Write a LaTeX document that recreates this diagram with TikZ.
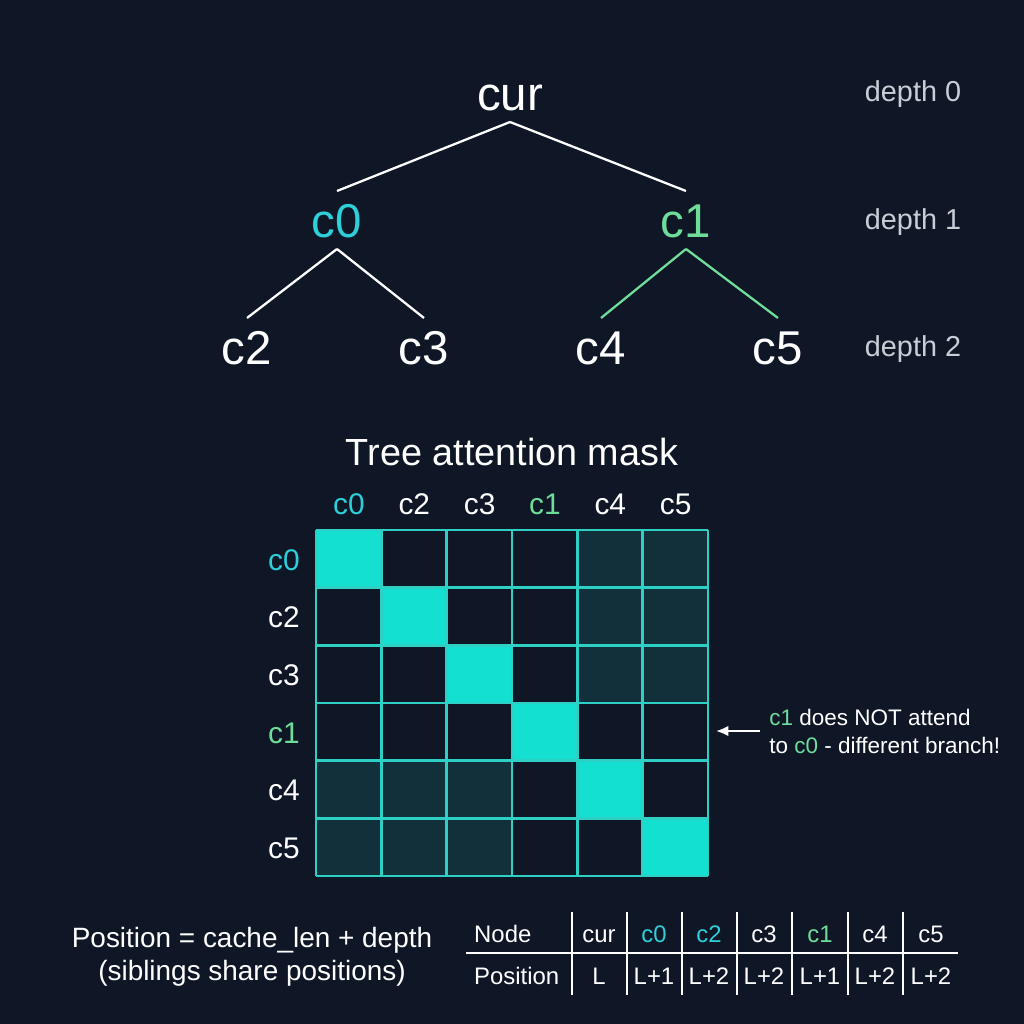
\documentclass[tikz,border=0pt]{standalone}
\usepackage{fontspec}
\setmainfont{Liberation Sans}
\usetikzlibrary{arrows.meta}
\definecolor{bg}{HTML}{0F1727}
\definecolor{cyantext}{HTML}{2DCFD9}
\definecolor{greentext}{HTML}{6FDD9A}
\definecolor{gridline}{HTML}{2ECFC4}
\definecolor{cellon}{HTML}{14E0D2}
\definecolor{celldim}{HTML}{12303A}
\definecolor{depthgray}{HTML}{C9CED6}

\begin{document}
\begin{tikzpicture}[x=0.02cm,y=-0.02cm,
  tnode/.style={text=white,font=\fontsize{27}{27}\selectfont,inner sep=0pt,
    text height=19.4pt,text depth=0pt,outer sep=6.8pt},
  depthlab/.style={text=depthgray,font=\fontsize{16.4}{16.4}\selectfont,anchor=base},
  glab/.style={text=white,font=\fontsize{17}{17}\selectfont,anchor=base},
  tcell/.style={text=white,font=\fontsize{13.6}{13.6}\selectfont,anchor=base},
  edge/.style={white,line width=1.3pt},
  gedge/.style={greentext,line width=1.3pt}]
\useasboundingbox (0,0) rectangle (1024,1024);
\fill[bg] (0,0) rectangle (1024,1024);
% tree
\node[tnode] (cur) at (510,93) {cur};
\node[tnode,text=cyantext] (c0) at (337,220) {c0};
\node[tnode,text=greentext] (c1) at (686,220) {c1};
\node[tnode] (c2) at (247,347) {c2};
\node[tnode] (c3) at (424,347) {c3};
\node[tnode] (c4) at (601,347) {c4};
\node[tnode] (c5) at (778,347) {c5};
\draw[edge] (cur.south) -- (c0.north);
\draw[edge] (cur.south) -- (c1.north);
\draw[edge] (c0.south) -- (c2.north);
\draw[edge] (c0.south) -- (c3.north);
\draw[gedge] (c1.south) -- (c4.north);
\draw[gedge] (c1.south) -- (c5.north);
\foreach \d/\y in {0/102, 1/229, 2/356} \node[depthlab] (depth\d) at (913,\y) {depth \d};
% mask
\node[text=white,font=\fontsize{21.5}{21.5}\selectfont,anchor=base] (title) at (512,465) {Tree attention mask};
\foreach \r in {0,1,2} \foreach \c in {4,5}
  \fill[celldim] (316+\c*65.33,530+\r*57.67) rectangle ++(65.33,57.67);
\foreach \r in {4,5} \foreach \c in {0,1,2}
  \fill[celldim] (316+\c*65.33,530+\r*57.67) rectangle ++(65.33,57.67);
\foreach \i in {0,...,5}
  \fill[cellon] (316+\i*65.33,530+\i*57.67) rectangle ++(65.33,57.67);
\foreach \i in {0,...,6} {
  \draw[gridline,line width=1.5pt] (316+\i*65.33,530) -- (316+\i*65.33,876);
  \draw[gridline,line width=1.5pt] (316,530+\i*57.67) -- (708,530+\i*57.67);
}
\foreach \n/\col [count=\i from 0] in {c0/cyantext, c2/white, c3/white, c1/greentext, c4/white, c5/white} {
  \node[glab,text=\col] (h\i) at (349+\i*65.33,514) {\n};
  \node[glab,text=\col] (r\i) at (284,570+\i*57.67) {\n};
}
% note
\node[text=white,font=\fontsize{12.8}{15.9}\selectfont,align=left,anchor=west,inner sep=0pt] (note) at (769,731)
  {{\color{greentext}c1} does NOT attend\\to {\color{greentext}c0} - different branch!};
\coordinate (tip) at (716,731);
\draw[white,line width=1.2pt,-{Latex[length=7pt,width=6pt]}] ([xshift=-5pt]note.west) -- (tip);
% positions
\node[text=white,font=\fontsize{15.9}{18.5}\selectfont,align=center] (rule) at (252,957)
  {Position = cache\_len + depth\\(siblings share positions)};
\node[tcell,anchor=base west] (hnode) at (468,942) {Node};
\node[tcell,anchor=base west] (hpos) at (468,984) {Position};
\foreach \n/\p/\col/\x [count=\i] in {cur/L/white/599, c0/L+1/cyantext/654, c2/L+2/cyantext/709, c3/L+2/white/764, c1/L+1/greentext/820, c4/L+2/white/875, c5/L+2/white/931} {
  \node[tcell,text=\col] (n\i) at (\x,942) {\n};
  \node[tcell] (p\i) at (\x,984) {\p};
}
\draw[white,line width=1pt] (466,953) -- (958,953);
\foreach \x in {572,627,682,737,792,848,903}
  \draw[white,line width=1pt] (\x,912) -- (\x,995);
\end{tikzpicture}
\end{document}
